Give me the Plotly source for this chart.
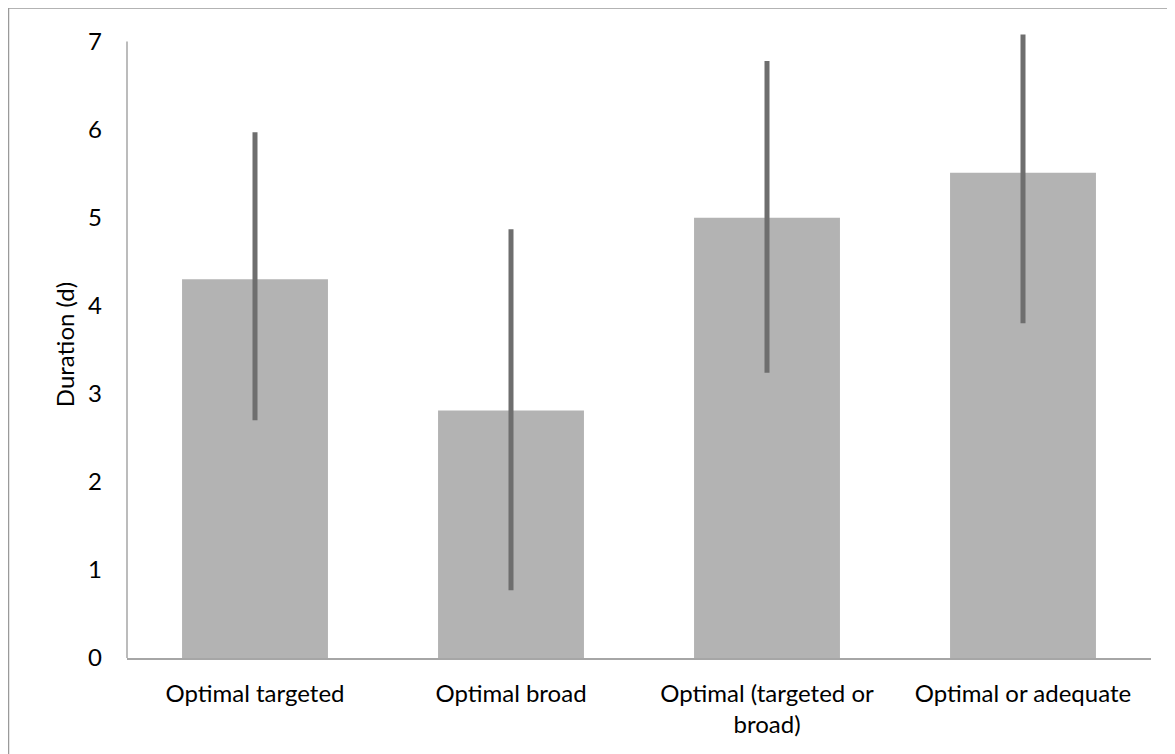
import plotly.graph_objects as go

categories = ["Optimal targeted", "Optimal broad", "Optimal (targeted or<br>broad)", "Optimal or adequate"]
means = [4.30, 2.81, 5.00, 5.51]
err_plus = [1.67, 2.06, 1.78, 1.57]
err_minus = [1.60, 2.04, 1.76, 1.71]
y_ticks = [0, 1, 2, 3, 4, 5, 6, 7]
y_axis_max = 7
y_range_max = 7.12

# page has 8px body margin; figure sized to fit the window
W, H = 1167, 746
L, R, B = 119, 24, 96
unit = 88.0
T = 34 - (y_range_max - y_axis_max) * unit
pw, ph = W - L - R, H - T - B

fig = go.Figure()
fig.add_trace(go.Bar(
    x=categories, y=means,
    marker=dict(color="#b3b3b3", line=dict(width=0)),
    error_y=dict(type="data", symmetric=False, array=err_plus, arrayminus=err_minus,
                 color="#6e6e6e", thickness=5, width=0),
    cliponaxis=False,
))

def px_x(p):
    return (p - L) / pw

def px_y(p):
    return (H - B - p) / ph

border = "#9a9a9a"
axis_col = "#a6a6a6"
fig.add_shape(type="line", xref="paper", yref="paper",
              x0=px_x(0.5), x1=px_x(W + 5), y0=px_y(0.5), y1=px_y(0.5),
              line=dict(color=border, width=1.5))
fig.add_shape(type="line", xref="paper", yref="paper",
              x0=px_x(0.5), x1=px_x(0.5), y0=px_y(0.5), y1=px_y(H + 5),
              line=dict(color=border, width=1.5))
# y axis line from 0 to 7
fig.add_shape(type="line", xref="paper", yref="y",
              x0=0, x1=0, y0=0, y1=y_axis_max,
              line=dict(color=axis_col, width=1.5), layer="above")

font = "Lato"
fs = 24
fig.update_layout(
    width=W, height=H,
    margin=dict(l=L, r=R, t=T, b=B, autoexpand=False),
    paper_bgcolor="white", plot_bgcolor="white",
    bargap=0.43,
    showlegend=False,
    font=dict(family=font, size=fs, color="#000000"),
    xaxis=dict(showline=True, linecolor=axis_col, linewidth=1.5, ticks="",
               showgrid=False, tickfont=dict(size=fs), ticklabelstandoff=13),
    yaxis=dict(range=[0, y_range_max], tickvals=y_ticks, showline=False,
               ticks="", showgrid=False, zeroline=False,
               tickfont=dict(size=fs), ticklabelstandoff=24,
               title=dict(text="Duration (d)", font=dict(size=fs), standoff=6)),
)

fig.write_html("out.html")
